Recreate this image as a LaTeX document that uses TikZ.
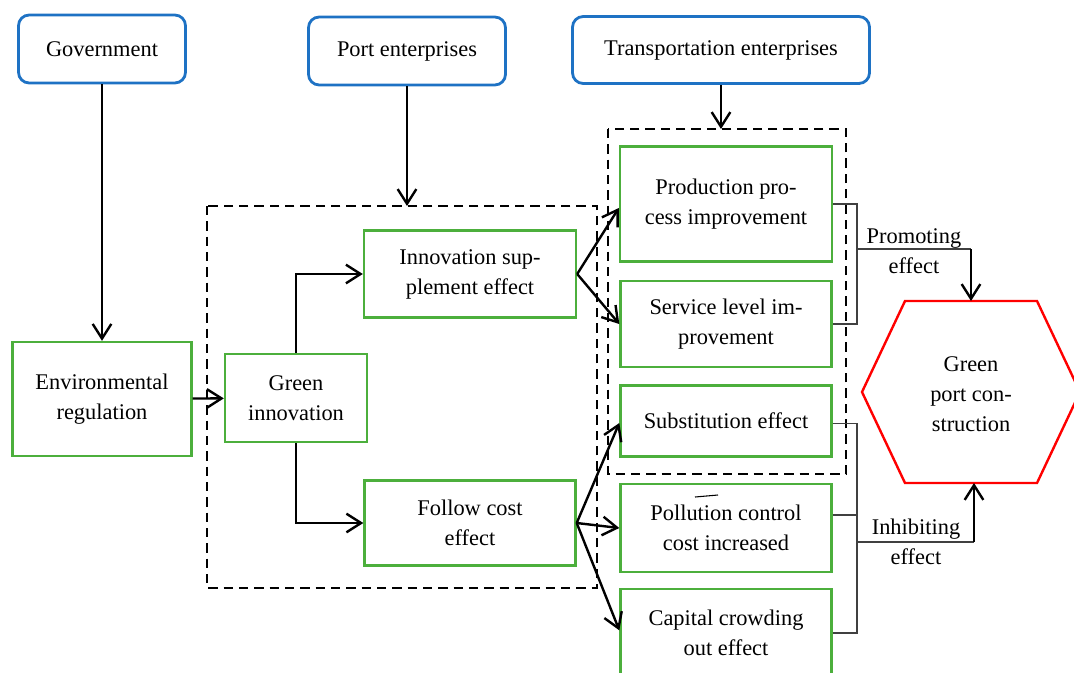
\documentclass[tikz,border=0pt]{standalone}
\usepackage{fontspec}
\setmainfont{Liberation Serif}
\usetikzlibrary{arrows.meta}
\definecolor{actorblue}{RGB}{30,114,196}
\definecolor{effgreen}{RGB}{76,175,60}
\newcommand{\px}[1]{#1*0.75pt}

\begin{document}
\begin{tikzpicture}[x=0.75pt, y=-0.75pt,
    font=\rmfamily\fontsize{16.8}{22.5}\selectfont,
    actor/.style={draw=actorblue, line width=2.1pt, rounded corners=8pt, align=center, inner sep=0pt},
    effbox/.style={draw=effgreen, line width=1.8pt, align=center, inner sep=0pt},
    grp/.style={draw, line width=1.9pt, dash pattern=on 7pt off 4.5pt},
    link/.style={-{Straight Barb[length=11pt, width=14pt, line width=1.8pt]}, line width=1.8pt},
    brace/.style={draw=black!75, line width=1.1pt},
    lbl/.style={align=center, inner sep=0pt}]
  \useasboundingbox (0,0) rectangle (1074,672);
  \clip (0,0) rectangle (1074,672);

  % actors
  \node[actor, minimum width=\px{167}, minimum height=\px{68}] (gov) at (102,49) {Government};
  \node[actor, minimum width=\px{197}, minimum height=\px{68}] (port) at (407,51) {Port enterprises};
  \node[actor, minimum width=\px{297}, minimum height=\px{67}] (trans) at (721,50) {Transportation enterprises};

  % dashed groups
  \draw[grp] (207,206) rectangle (597,588);
  \draw[grp] (608,129) rectangle (846,474);
  \coordinate (g1top) at (407,206);
  \coordinate (g2top) at (721,129);

  % effects
  \node[effbox, minimum width=\px{179}, minimum height=\px{114}] (env) at (102,399) {Environmental\\regulation};
  \node[effbox, minimum width=\px{142}, minimum height=\px{88}] (gin) at (296,398) {Green\\innovation};
  \node[effbox, minimum width=\px{212}, minimum height=\px{87}] (isup) at (470,274) {Innovation sup-\\plement effect};
  \node[effbox, minimum width=\px{211}, minimum height=\px{85}] (fcost) at (470,523) {Follow cost\\effect};
  \node[effbox, minimum width=\px{212}, minimum height=\px{115}] (prod) at (726,204) {Production pro-\\cess improvement};
  \node[effbox, minimum width=\px{211}, minimum height=\px{86}] (serv) at (726,324) {Service level im-\\provement};
  \node[effbox, minimum width=\px{211}, minimum height=\px{71}] (subs) at (726,421) {Substitution effect};
  \node[effbox, minimum width=\px{211}, minimum height=\px{88}] (poll) at (726,528) {Pollution control\\cost increased};
  \node[effbox, minimum width=\px{211}, minimum height=\px{88}] (cap) at (726,633) {Capital crowding\\out effect};
  \draw[line width=0.8pt] ([shift={(-31,-31)}]poll.center) -- ++(23,-2);

  % green port construction
  \draw[red, line width=1.8pt] (862,392) -- (905,301) -- (1037,301) -- (1080,392) -- (1037,483) -- (905,483) -- cycle;
  \node[lbl] (gpc) at (971,394) {Green\\port con-\\struction};
  \coordinate (hextop) at (971,301);
  \coordinate (hexbot) at (974,483);

  % arrows
  \draw[link] (gov) -- (env);
  \draw[link] (port) -- (g1top);
  \draw[link] (trans) -- (g2top);
  \draw[link] (env) -- (gin);
  \draw[link] (gin.north) |- (isup.west);
  \draw[link] (gin.south) |- (fcost.west);
  \draw[link] (isup.east) -- ([yshift=-3pt]prod.west);
  \draw[link] (isup.east) -- (serv.west);
  \draw[link] (fcost.east) -- ([yshift=-1.5pt]subs.west);
  \draw[link] (fcost.east) -- (poll.west);
  \draw[link] (fcost.east) -- ([yshift=2pt]cap.west);

  % promoting
  \coordinate (pj) at (857,249);
  \draw[brace] (prod.east) -| (serv.east -| pj) -- (serv.east);
  \draw[brace] (pj) -- (pj -| hextop);
  \draw[link] (pj -| hextop) -- (hextop);
  \node[lbl] (prm) at (914,251) {Promoting\\effect};

  % inhibiting
  \coordinate (ij) at (857,542);
  \coordinate (pe) at ([yshift=9.75pt]poll.east);
  \draw[brace] ([yshift=-2pt]subs.east) -| (cap.east -| ij) -- (cap.east);
  \draw[brace] (pe) -- (pe -| ij);
  \draw[brace] (ij) -- (ij -| hexbot);
  \draw[link] (ij -| hexbot) -- (hexbot);
  \node[lbl] (inh) at (916,542) {Inhibiting\\effect};
\end{tikzpicture}
\end{document}
